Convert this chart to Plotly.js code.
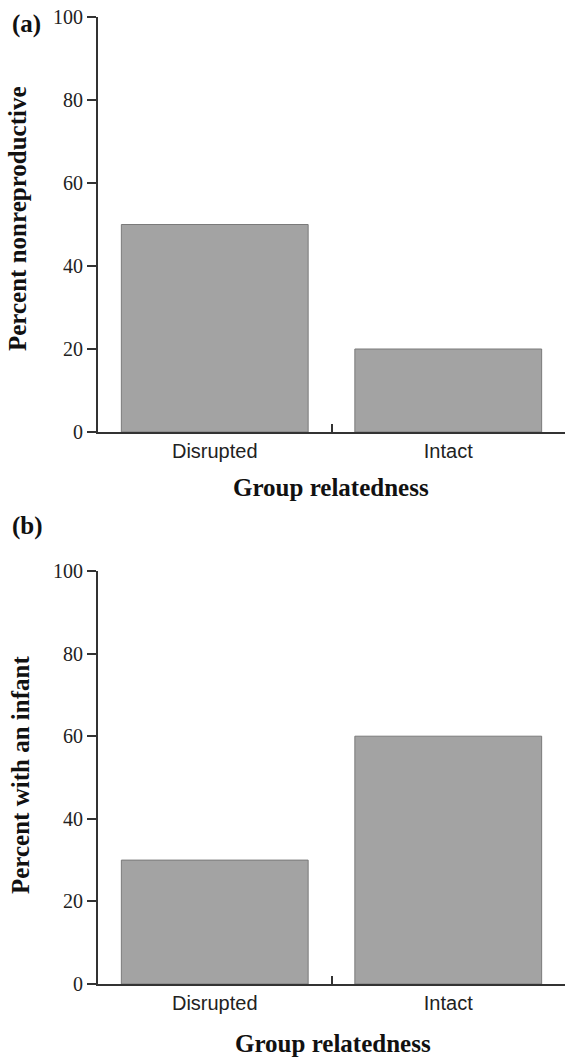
<!DOCTYPE html>
<html>
<head>
<meta charset="utf-8">
<script src="https://cdn.plot.ly/plotly-3.0.1.min.js"></script>
<style>html,body{margin:0;padding:0;background:#fff;}#chart{width:565px;height:1058px;}</style>
</head>
<body>
<div id="chart"></div>
<script>
const categories = ["Disrupted", "Intact"];
const percentNonreproductive = [50, 20];
const percentWithInfant = [30, 60];
const yTickValues = [0, 20, 40, 60, 80, 100];
const panelLabels = ["(a)", "(b)"];
const yTitles = ["Percent nonreproductive", "Percent with an infant"];
const xTitle = "Group relatedness";

const barStyle = {color: "#a3a3a3", line: {color: "#7a7a7a", width: 1}};
const traces = [
  {type: "bar", x: categories, y: percentNonreproductive, xaxis: "x", yaxis: "y", marker: barStyle, width: 0.8, hoverinfo: "none"},
  {type: "bar", x: categories, y: percentWithInfant, xaxis: "x2", yaxis: "y2", marker: barStyle, width: 0.8, hoverinfo: "none"}
];

const H = 1058, W = 565;
const py = v => 1 - v / H;
const px = v => v / W;

function xAxis(anchor) {
  return {
    domain: [px(98), 1], anchor: anchor, type: "category", range: [-0.5, 1.5],
    showline: true, linecolor: "#333", linewidth: 2, showgrid: false, zeroline: false,
    ticks: "inside", tickson: "boundaries", ticklen: 8, tickwidth: 2, tickcolor: "#333",
    tickfont: {family: "Liberation Sans, Arial, sans-serif", size: 20, color: "#222"},
    fixedrange: true
  };
}
function yAxis(anchor, d0, d1) {
  return {
    domain: [py(d0), py(d1)], anchor: anchor, range: [0, 100],
    tickvals: yTickValues, showline: true, linecolor: "#333", linewidth: 2,
    showgrid: false, zeroline: false, ticks: "outside", ticklen: 9, tickwidth: 2, tickcolor: "#333",
    ticklabelstandoff: 0,
    tickfont: {family: "Liberation Serif, Times New Roman, serif", size: 20, color: "#222"},
    fixedrange: true
  };
}

const annFontBold = {family: "Liberation Serif, Times New Roman, serif", size: 25, color: "#111"};
const layout = {
  width: W, height: H, margin: {l: 0, r: 0, t: 0, b: 0},
  paper_bgcolor: "#fff", plot_bgcolor: "#fff", showlegend: false,
  xaxis: xAxis("y"), yaxis: yAxis("x", 432, 17),
  xaxis2: xAxis("y2"), yaxis2: yAxis("x2", 984, 571),
  annotations: [
    {text: "<b>" + panelLabels[0] + "</b>", xref: "paper", yref: "paper", x: px(10), y: py(24), xanchor: "left", yanchor: "middle", showarrow: false, font: annFontBold},
    {text: "<b>" + panelLabels[1] + "</b>", xref: "paper", yref: "paper", x: px(10), y: py(526), xanchor: "left", yanchor: "middle", showarrow: false, font: annFontBold},
    {text: "<b>" + yTitles[0] + "</b>", xref: "paper", yref: "paper", x: px(18), y: py(219), xanchor: "center", yanchor: "middle", textangle: -90, showarrow: false, font: annFontBold},
    {text: "<b>" + yTitles[1] + "</b>", xref: "paper", yref: "paper", x: px(20), y: py(775), xanchor: "center", yanchor: "middle", textangle: -90, showarrow: false, font: annFontBold},
    {text: "<b>" + xTitle + "</b>", xref: "paper", yref: "paper", x: px(331), y: py(488), xanchor: "center", yanchor: "middle", showarrow: false, font: annFontBold},
    {text: "<b>" + xTitle + "</b>", xref: "paper", yref: "paper", x: px(333), y: py(1058), xanchor: "center", yanchor: "bottom", borderpad: 0, showarrow: false, font: annFontBold}
  ]
};

Plotly.newPlot("chart", traces, layout, {displayModeBar: false, staticPlot: true});
</script>
</body>
</html>
